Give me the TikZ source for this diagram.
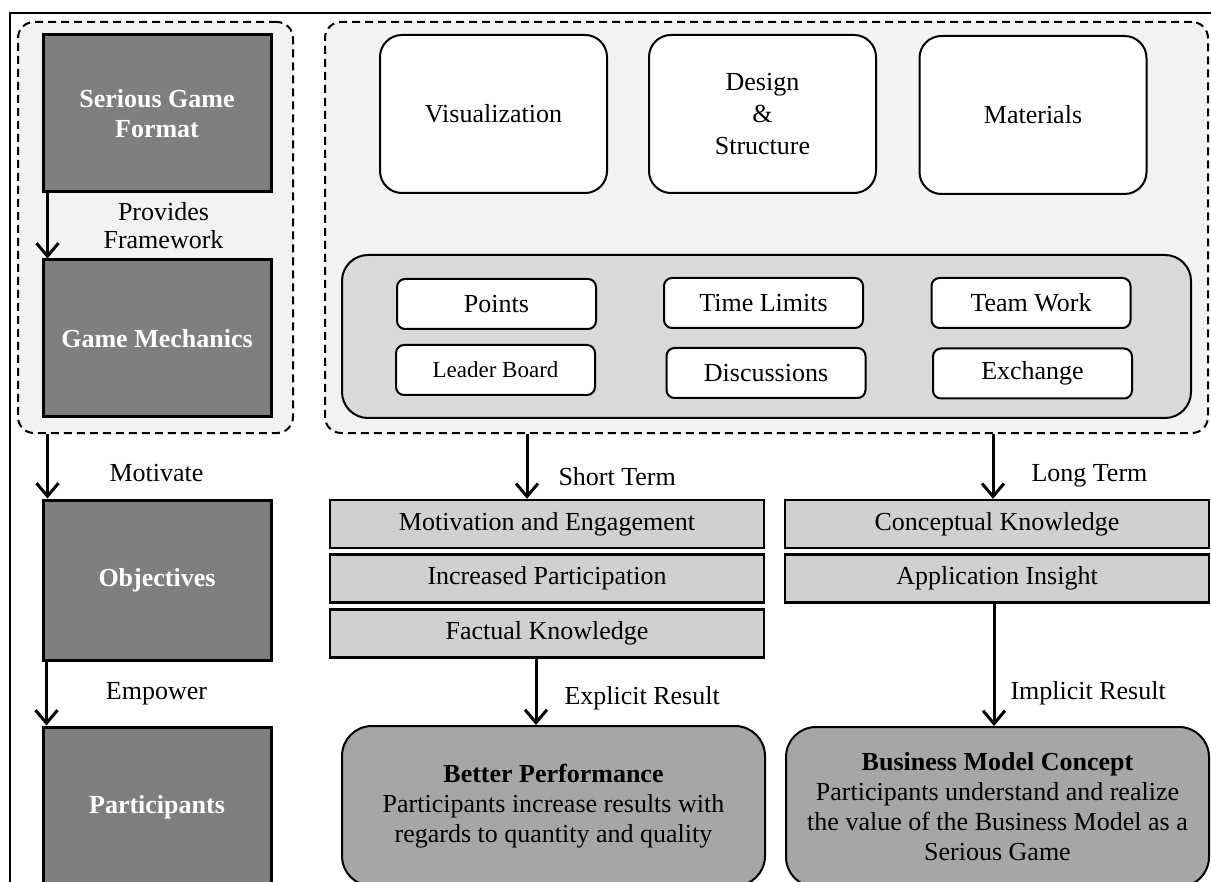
\documentclass[tikz,border=0pt]{standalone}
\usepackage{fontspec}
\setmainfont{Liberation Serif}
\usetikzlibrary{arrows.meta}
\definecolor{clrDark}{HTML}{7F7F7F}
\definecolor{clrPanel}{HTML}{F2F2F2}
\definecolor{clrMech}{HTML}{D9D9D9}
\definecolor{clrBar}{HTML}{D0D0D0}
\definecolor{clrOutcome}{HTML}{A6A6A6}
\tikzset{% styles for the boxes, sizes are in pt
   basefont/.style={font=\fontsize{13}{15}\selectfont},
   groupbox/.style={draw, dashed, dash pattern=on 4pt off 2.5pt, line width=1pt,
                    fill=clrPanel, rounded corners=8pt},
   mechbox/.style={draw, line width=1pt, fill=clrMech, rounded corners=13pt,
                   minimum width=424.5pt, minimum height=81.5pt},
   darkbox/.style={draw, line width=1.5pt, fill=clrDark, text=white,
                   font=\fontsize{13}{15}\selectfont\bfseries, align=center,
                   minimum width=114pt, minimum height=78.5pt},
   elementbox/.style={draw, line width=1pt, fill=white, rounded corners=11pt,
                      align=center, minimum width=113.5pt, minimum height=79pt},
   tinybox/.style={draw, line width=1pt, fill=white, rounded corners=4pt,
                   minimum width=99.5pt, minimum height=25pt},
   resultbar/.style={draw, line width=1.2pt, fill=clrBar,
                     minimum width=217pt, minimum height=24pt},
   outcomebox/.style={draw, line width=1pt, fill=clrOutcome, rounded corners=15pt,
                      align=center, minimum width=211.5pt, minimum height=80pt},
   arr/.style={line width=1.5pt, -{Straight Barb[length=6.5pt, width=11pt]}},
   lbl/.style={inner sep=0pt, align=center}
}
\begin{document}
\begin{tikzpicture}[x=0.5pt, y=-0.5pt, basefont]
   \clip (0,0) rectangle (1211,882);
   % outer frame
   \draw[line width=1pt] (10,882) -- (10,13) -- (1211,13);

   % dashed groups and the mechanics panel
   \node (lgroup) at (155.5,227.5) [groupbox, minimum width=137.5pt, minimum height=205.5pt] {};
   \node (rgroup) at (766.5,227.5) [groupbox, minimum width=441.5pt, minimum height=205.5pt] {};
   \node (mech) at (766.5,336.5) [mechbox] {};

   % left column
   \node (sgf) at (157,113.5) [darkbox] {Serious Game\\Format};
   \node (gm) at (157,338.5) [darkbox] {Game Mechanics};
   \node (obj) at (157,580) [darkbox, minimum height=80pt] {Objectives};
   \node (part) at (157,807) [darkbox, minimum height=80pt] {Participants};

   % elements of the format
   \node (vis) at (493.5,114) [elementbox] {Visualization};
   \node (des) at (762.5,114) [elementbox, font=\fontsize{13}{16}\selectfont] {Design\\\&\\Structure};
   \node (mat) at (1033,115) [elementbox] {Materials};

   % game mechanics
   \foreach \x/\y/\name/\txt in {496.5/304/points/Points, 763.5/303/time/Time Limits,
                                 766/373/disc/Discussions, 1031/303/team/Team Work,
                                 1032.5/373.5/exch/Exchange} {
      \node (\name) at (\x,\y) [tinybox] {\txt};
   }
   \node (leader) at (495.5,370) [tinybox, font=\fontsize{11.5}{14}\selectfont] {Leader Board};

   % short and long term results
   \node (motiv) at (547,524) [resultbar] {Motivation and Engagement};
   \node (incr) at (547,578.5) [resultbar] {Increased Participation};
   \node (fact) at (547,633.5) [resultbar] {Factual Knowledge};
   \node (concept) at (997,524) [resultbar, minimum width=212pt] {Conceptual Knowledge};
   \node (insight) at (997,578.5) [resultbar, minimum width=212pt] {Application Insight};

   % outcomes
   \node (perf) at (553.5,806) [outcomebox]
        {\textbf{Better Performance}\\Participants increase results with\\regards to quantity and quality};
   \node (bmc) at (997.5,807) [outcomebox]
        {\textbf{Business Model Concept}\\Participants understand and realize\\the value of the Business Model as a\\Serious Game};

   % connectors
   \draw[arr] ([xshift=3pt]sgf.south west) -- ([xshift=3pt]gm.north west)
        node[lbl, midway, xshift=58pt, font=\fontsize{13}{14}\selectfont] {Provides\\Framework};
   \coordinate (a1) at ([xshift=3pt]obj.north west);
   \draw[arr] (a1 |- lgroup.south) -- (a1) node[lbl, pos=0.6, xshift=54.5pt] {Motivate};
   \draw[arr] ([xshift=2.5pt]obj.south west) -- ([xshift=2.5pt]part.north west)
        node[lbl, midway, xshift=55pt] {Empower};

   \coordinate (st) at ([xshift=-10pt]motiv.north);
   \draw[arr] (st |- rgroup.south) -- (st) node[lbl, pos=0.65, right=15pt] {Short Term};
   \coordinate (er) at ([xshift=-8.75pt]perf.north);
   \draw[arr] (er |- fact.south) -- (er) node[lbl, pos=0.6, right=13.5pt] {Explicit Result};
   \coordinate (lt) at ([xshift=-2pt]concept.north);
   \draw[arr] (lt |- rgroup.south) -- (lt) node[lbl, pos=0.65, right=18.5pt] {Long Term};
   \coordinate (ir) at ([xshift=-1.75pt]bmc.north);
   \draw[arr] (ir |- insight.south) -- (ir) node[lbl, pos=0.73, right=7.5pt] {Implicit Result};
\end{tikzpicture}
\end{document}
